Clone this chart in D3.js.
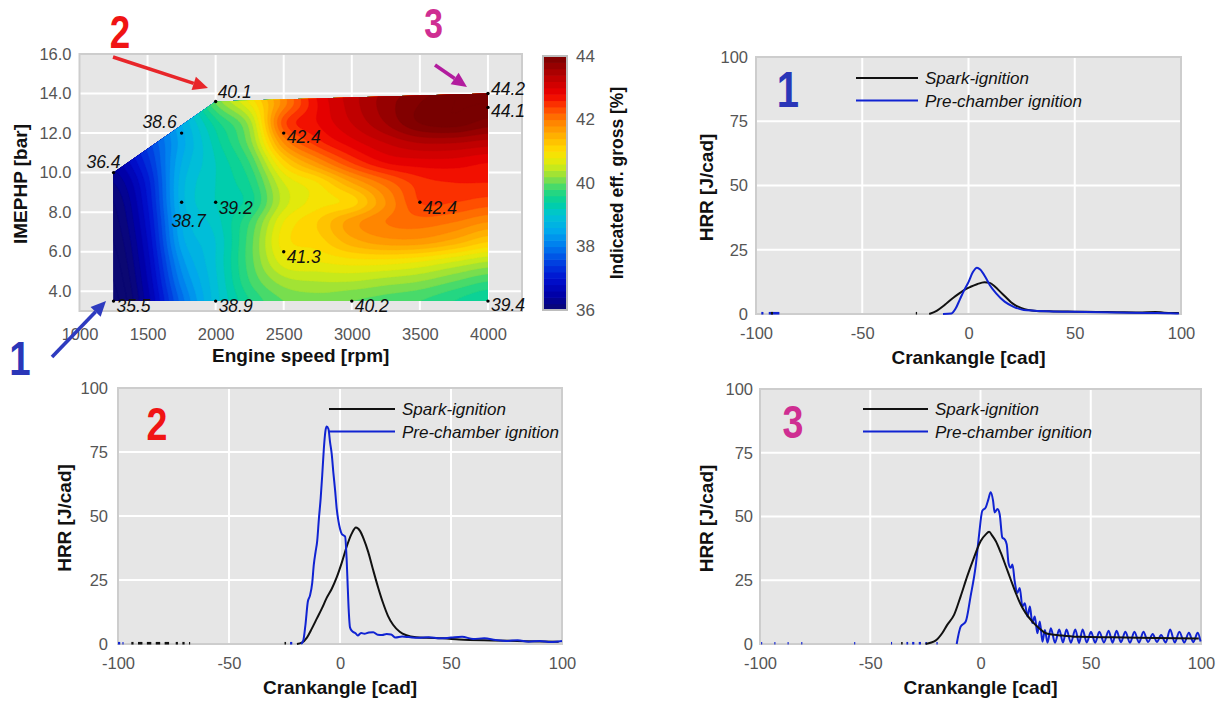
<!DOCTYPE html>
<html>
<head>
<meta charset="utf-8">
<script src="https://cdn.jsdelivr.net/npm/d3@7/dist/d3.min.js"></script>
<style>
html,body{margin:0;padding:0;background:#fff;}
svg{display:block;}
</style>
</head>
<body>
<svg id="chart" width="1228" height="701"></svg>
<script>
// ================= DATA: efficiency map =================
const rpmCols  = [1250,1500,1750,2000,2250,2500,2750,3000,3250,3500,3750,4000];
const imepRows = [3.5,4.5,5.5,6.5,7.5,8.5,9.5,10.5,11.5,12.5,13.5,14.5];
const effGrid = [
  [35.5,36.5,37.9,38.9, 39.6,40.0,40.1,40.0,39.9,39.8,39.6,39.4],
  [35.6,36.6,38.1,38.95,39.8,40.3,40.4,40.4,40.3,40.2,40.0,39.8],
  [35.7,36.7,38.3,39.0, 39.9,40.7,40.8,40.9,40.9,40.8,40.6,40.4],
  [35.8,36.8,38.5,39.0, 39.9,40.9,41.1,41.5,41.7,41.7,41.5,41.2],
  [35.9,36.9,38.6,39.1, 39.8,40.8,41.2,41.7,42.0,42.1,42.0,41.8],
  [36.0,37.0,38.7,39.2, 39.5,40.5,40.9,41.1,41.8,42.4,42.4,42.3],
  [36.2,37.1,38.7,39.2, 39.6,40.6,41.0,41.6,42.1,42.5,42.6,42.6],
  [36.5,37.3,38.6,39.2, 39.8,41.1,41.8,42.4,42.8,42.9,42.9,42.8],
  [36.8,37.5,38.5,39.3, 40.1,41.8,42.5,42.9,43.2,43.4,43.4,43.3],
  [37.1,37.7,38.6,39.5, 40.3,42.3,42.8,43.2,43.6,44.0,44.1,43.9],
  [37.4,37.9,38.8,40.0, 40.8,41.9,42.8,43.3,43.7,44.0,44.2,44.2],
  [37.7,38.1,39.1,40.4, 41.2,42.1,42.9,43.3,43.6,43.8,44.1,44.3]
];
const pointRpm  = [1250,1250,1750,2000,1750,2000,2000,2500,2500,3000,3500,4000,4000,4000];
const pointImep = [3.5,10,12,13.6,8.5,8.5,3.5,12,6,3.5,8.5,14.0,13.3,3.5];
const pointEff  = [35.5,36.4,38.6,40.1,38.7,39.2,38.9,42.4,41.3,40.2,42.4,44.2,44.1,39.4];
const rpmTicks  = [1000,1500,2000,2500,3000,3500,4000];
const imepTicks = [4,6,8,10,12,14,16];
const effTicks  = [36,38,40,42,44];

// ================= DATA: heat release rate =================
const cadTicks = [-100,-50,0,50,100];
const hrrTicks = [0,25,50,75,100];
const legendNames = ['Spark-ignition','Pre-chamber ignition'];

// operating point 1
const c1SparkCad = [-18.5,-15,-12,-10,-7,-4,-1.5,1,4,7.5,10,12.5,15,17.5,20,22.5,25,28,32,40,50,60,70,80,88,92,96,99];
const c1SparkHrr = [0,1.2,3.0,4.4,6.4,8.2,9.6,10.6,11.6,12.4,12.1,10.6,8.6,6.6,4.6,3.2,2.3,1.6,1.2,1.0,0.9,0.8,0.7,0.6,0.8,0.5,0.4,0.4];
const c1PreCad = [-12,-8,-6,-4,-2,0,2,4,5.5,8,10,13,17,21,26,31,40,55,70,85,95,99];
const c1PreHrr = [0,0.2,2.2,5.8,9.3,12.4,16.2,18.0,17.3,14.3,11.3,8.0,4.8,2.9,1.6,1.3,1.0,0.8,0.6,0.4,0.3,0.2];
const c1SparkBits = [[-93,-92],[-24.8,-24.2]];
const c1PreBits = [[-97.5,-96.5],[-94,-89]];

// operating point 2
const c2SparkCad = [-19.4,-17.2,-14.9,-12.7,-10.4,-8.2,-6,-3.7,-1.5,0.7,3,5.2,7.2,9,10.7,12.7,14.9,17.2,19.4,21.6,23.9,26.9,29.9,34.3,38.8,46.3,53.7,68.7,83.6,98.5];
const c2SparkHrr = [0,0.5,2.5,6.0,10.0,13.8,18.0,21.6,26.0,31.5,38.0,43.0,45.5,44.2,41.0,36.0,29.0,22.0,16.0,11.0,7.5,4.8,3.4,2.6,2.4,2.2,1.8,1.4,1.1,0.9];
const c2PreCad = [-17.5,-16.5,-15.5,-14.5,-13.5,-12.5,-11.8,-11,-10.3,-9.5,-8.7,-8,-7.3,-6.6,-6,-5.2,-4.5,-3.7,-3,-2.2,-1.5,-0.7,0,0.8,1.5,2.3,3,3.5,4,4.5,5.5,7,8,9.5,11,13,15,17,19,21,23,25,28,31,35,40,45,50,55,60,65,70,75,80,85,90,95,100];
const c2PreHrr = [0,1.5,8,16.5,19,24,31,36,40,49,57,66,76,83,85,84,79,74,67,60,53,48,45,43,42.5,42,33,22,12,6.5,5,4.2,3.3,4.3,4.0,4.5,4.6,3.6,3.5,3.9,3.7,2.5,2.9,2.7,2.4,2.6,2.2,2.5,2.8,2.0,2.2,1.6,1.2,1.5,0.9,1.2,0.8,1.2];
const c2SparkBits = [[-94,-93],[-91,-89],[-87,-85],[-83,-81],[-79,-77],[-74,-73],[-71,-70],[-68,-67.5],[-25,-24.3]];
const c2PreBits = [[-100,-99],[-98,-97.5],[-22.5,-21.5]];

// operating point 3
const c3SparkCad = [-24.9,-20.4,-17.4,-15.1,-12,-9,-6,-3,0.1,2.4,3.9,5.4,6.9,9.2,11.5,13.7,16,18.3,20.5,23.5,26.6,29.6,33.4,37.2,45,60,80,99];
const c3SparkHrr = [0,1.3,4.2,7.5,11.4,18.7,26.6,33.8,40.4,43.0,44.0,42.4,40.4,35.8,30.5,25.3,20.0,15.4,12.1,8.8,6.2,4.2,3.6,3.3,2.8,2.6,2.4,2.2];
const c3PreCad = [-10.8,-9,-6.7,-4.5,-2.2,-0.7,0.8,2.4,3.6,4.6,5.7,6.4,7.7,8.7,9.9,11.0,11.9,12.7,13.7,14.5,15.5,16.7,17.8,19.0,20.1,21.3,22.4,23.5,24.6,25.8,26.9,28.1,29.2,30.4,31.9,33.8,35.7,37.4,39.0,41.0,43.0,44.7,46.3,48.2,50.1,52.0,53.9,56.0,58.1,59.9,61.7,63.7,65.7,67.8,69.8,71.9,73.9,76.0,78.1,80.0,81.9,84.0,86.0,88.1,90.2,92.4,94.5,96.5,98.5,99.8];
const c3PreHrr = [0,6.8,8.8,18.7,30.5,42.4,52.2,53.6,56.8,59.5,56.2,51.6,52.9,50.9,41.7,41.0,39.0,31.8,29.9,31.2,24.6,20.0,22.0,14.7,16.0,10.8,14.7,8.2,10.8,4.2,8.8,0.9,5.5,0.5,6.2,0.5,5.7,0.6,5.7,0.5,5.7,0.4,5.7,0.6,4.8,0.5,4.8,0.6,5.2,0.5,5.2,0.7,4.8,0.5,4.8,0.6,4.8,0.8,3.9,0.8,3.5,0.6,5.7,0.6,4.8,0.6,4.4,0.7,4.4,1.0];
const c3SparkBits = [[-36,-35.3]];
const c3PreBits = [[-99.5,-99],[-93.5,-93],[-87.5,-87],[-81.3,-80.8],[-57.3,-56.8],[-40.6,-40.1],[-33.6,-32.8],[-31,-30],[-28,-27],[-25,-24.3],[-20,-19.4]];

// ================= STYLE =================
const FONT = "'Liberation Sans', Arial, Helvetica, sans-serif";
const TICK_COLOR = '#555';
const BG = '#e6e6e6';
const FRAME = '#cdcdcd';
const SPARK_COLOR = '#111111';
const PRE_COLOR = '#1023d2';
const cmapStops  = [36,36.5,37,37.5,38,38.5,39,39.4,39.8,40.2,40.6,41,41.5,42,42.4,42.8,43.3,43.7,44];
const cmapColors = ['#0b0872','#0000a8','#0010d0','#0040e0','#0078ee','#00a8ec','#00c4d4','#00d0a0','#30d878','#90e040','#d8ec10','#ffe000','#ffb000','#ff7c00','#ff4000','#ee0000','#c00000','#960000','#780000'];
const cmap = d3.scaleLinear().domain(cmapStops).range(cmapColors).clamp(true);
const plain = d => String(d);

const svg = d3.select('#chart');

// ================= efficiency map =================
const mx = d3.scaleLinear().domain([1000,4250]).range([79.5,522]);
const my = d3.scaleLinear().domain([3,16]).range([311,54]);
const mapG = svg.append('g');
mapG.append('rect').attr('x',mx.range()[0]).attr('y',my.range()[1])
  .attr('width',mx.range()[1]-mx.range()[0]).attr('height',my.range()[0]-my.range()[1]).attr('fill',BG);
mapG.selectAll('line.gx').data(rpmTicks.slice(1)).join('line').attr('class','gx')
  .attr('x1',d=>mx(d)).attr('x2',d=>mx(d)).attr('y1',my.range()[1]).attr('y2',my.range()[0])
  .attr('stroke','#fff').attr('stroke-width',2);
mapG.selectAll('line.gy').data(imepTicks.slice(0,-1)).join('line').attr('class','gy')
  .attr('y1',d=>my(d)).attr('y2',d=>my(d)).attr('x1',mx.range()[0]).attr('x2',mx.range()[1])
  .attr('stroke','#fff').attr('stroke-width',2);
mapG.append('rect').attr('x',mx.range()[0]).attr('y',my.range()[1])
  .attr('width',mx.range()[1]-mx.range()[0]).attr('height',my.range()[0]-my.range()[1])
  .attr('fill','none').attr('stroke',FRAME).attr('stroke-width',2);

// smooth sampling of the read grid (Catmull-Rom) for drawing contour bands
function cr(p0,p1,p2,p3,t){
  return 0.5*((2*p1)+(-p0+p2)*t+(2*p0-5*p1+4*p2-p3)*t*t+(-p0+3*p1-3*p2+p3)*t*t*t);
}
function sampleEff(r,m){
  const nC = rpmCols.length, nR = imepRows.length;
  const fx = (r-rpmCols[0])/(rpmCols[1]-rpmCols[0]);
  const fy = (m-imepRows[0])/(imepRows[1]-imepRows[0]);
  const ix = Math.floor(fx), iy = Math.floor(fy), tx = fx-ix, ty = fy-iy;
  const g = (i,j)=>effGrid[Math.max(0,Math.min(nR-1,j))][Math.max(0,Math.min(nC-1,i))];
  const rows = [];
  for(let k=-1;k<=2;k++) rows.push(cr(g(ix-1,iy+k),g(ix,iy+k),g(ix+1,iy+k),g(ix+2,iy+k),tx));
  return cr(rows[0],rows[1],rows[2],rows[3],ty);
}
const nx = 281, ny = 221, r0 = 1240, dr = 10, m0 = 3.4, dm = 0.05;
const vals = new Array(nx*ny);
for(let j=0;j<ny;j++) for(let i=0;i<nx;i++) vals[j*nx+i] = sampleEff(r0+i*dr, m0+j*dm);
const levels = d3.range(35.0,44.6,0.2);
const bands = d3.contours().size([nx,ny]).thresholds(levels)(vals);
const proj = d3.geoTransform({point(x,y){ this.stream.point(mx(r0+(x-0.5)*dr), my(m0+(y-0.5)*dm)); }});
const gpath = d3.geoPath(proj);
const hull = d3.polygonHull(pointRpm.map((r,i)=>[mx(r),my(pointImep[i])]));
svg.append('defs').append('clipPath').attr('id','mapClip')
  .append('path').attr('d','M'+hull.map(p=>p.join(',')).join('L')+'Z');
mapG.append('g').attr('clip-path','url(#mapClip)')
  .selectAll('path').data(bands).join('path')
  .attr('d',gpath).attr('fill',d=>cmap(d.value+0.1)).attr('stroke',d=>cmap(d.value+0.1)).attr('stroke-width',0.4);

// measurement points & labels
const labelDx = [3,-27,-39,2,-10,3,3,3,3,3,3,3,3,3];
const labelDy = [5,-11,-11,-9,19,6,5,4,5,5,6,-5,4,4];
mapG.selectAll('circle.pt').data(pointRpm).join('circle').attr('class','pt')
  .attr('cx',(d,i)=>mx(d)).attr('cy',(d,i)=>my(pointImep[i])).attr('r',1.7).attr('fill','#000');
mapG.selectAll('text.pl').data(pointEff).join('text').attr('class','pl')
  .attr('x',(d,i)=>mx(pointRpm[i])+labelDx[i]).attr('y',(d,i)=>my(pointImep[i])+labelDy[i]+6)
  .attr('font-family',FONT).attr('font-size',17.5).attr('font-style','italic').attr('fill','#111')
  .text(d=>d3.format('.1f')(d));

// map axes
const axB = mapG.append('g').attr('transform',`translate(0,${my.range()[0]})`)
  .call(d3.axisBottom(mx).tickValues(rpmTicks).tickFormat(plain).tickSize(0).tickPadding(17));
const axL = mapG.append('g').attr('transform',`translate(${mx.range()[0]},0)`)
  .call(d3.axisLeft(my).tickValues(imepTicks).tickFormat(d3.format('.1f')).tickSize(0).tickPadding(8));
[axB,axL].forEach(a=>{a.select('.domain').remove();
  a.selectAll('text').attr('font-family',FONT).attr('font-size',16.5).attr('fill',TICK_COLOR);});
mapG.append('text').attr('x',(mx.range()[0]+mx.range()[1])/2).attr('y',362).attr('text-anchor','middle')
  .attr('font-family',FONT).attr('font-weight','bold').attr('font-size',19).attr('fill','#111').text('Engine speed [rpm]');
mapG.append('text').attr('transform','translate(27,184) rotate(-90)').attr('text-anchor','middle')
  .attr('font-family',FONT).attr('font-weight','bold').attr('font-size',19).attr('fill','#111').text('IMEPHP [bar]');

// colour bar
const cb = d3.scaleLinear().domain([36,44]).range([310,56]);
const cbG = svg.append('g');
const cbSteps = d3.range(36,44,0.2);
cbG.selectAll('rect.cs').data(cbSteps).join('rect').attr('class','cs')
  .attr('x',543).attr('width',24).attr('y',d=>cb(d+0.2)).attr('height',d=>cb(d)-cb(d+0.2)+0.6)
  .attr('fill',d=>cmap(d+0.1));
cbG.append('rect').attr('x',543).attr('y',cb(44)).attr('width',24).attr('height',cb(36)-cb(44))
  .attr('fill','none').attr('stroke','#bdbdbd').attr('stroke-width',2);
const cbAx = cbG.append('g').attr('transform','translate(567,0)')
  .call(d3.axisRight(cb).tickValues(effTicks).tickFormat(plain).tickSize(0).tickPadding(9));
cbAx.select('.domain').remove();
cbAx.selectAll('text').attr('font-family',FONT).attr('font-size',17).attr('fill',TICK_COLOR);
cbG.append('text').attr('transform','translate(623,183) rotate(-90)').attr('text-anchor','middle')
  .attr('font-family',FONT).attr('font-weight','bold').attr('font-size',17.5).attr('fill','#111')
  .text('Indicated eff. gross [%]');

// ================= helpers =================
function bigDigit(txt,cx,baseline,size,color){
  svg.append('text').attr('transform',`translate(${cx},${baseline}) scale(0.8,1)`)
    .attr('text-anchor','middle').attr('font-family',FONT).attr('font-weight','bold')
    .attr('font-size',size).attr('fill',color).text(txt);
}
function arrow(x1,y1,x2,y2,color){
  const a = Math.atan2(y2-y1,x2-x1), L = 15, W = 7;
  const bx = x2-L*Math.cos(a), by = y2-L*Math.sin(a);
  svg.append('line').attr('x1',x1).attr('y1',y1).attr('x2',bx).attr('y2',by)
    .attr('stroke',color).attr('stroke-width',3.6);
  svg.append('path').attr('d',`M${x2},${y2}L${bx+W*Math.sin(a)},${by-W*Math.cos(a)}L${bx-W*Math.sin(a)},${by+W*Math.cos(a)}Z`)
    .attr('fill',color);
}

function hrrPanel(o){
  const x = d3.scaleLinear().domain([-100,100]).range([o.l,o.r]);
  const y = d3.scaleLinear().domain([0,100]).range([o.b,o.t]);
  const g = svg.append('g');
  g.append('rect').attr('x',o.l).attr('y',o.t).attr('width',o.r-o.l).attr('height',o.b-o.t).attr('fill',BG);
  g.selectAll('line.gx').data(cadTicks.slice(1,-1)).join('line').attr('class','gx')
    .attr('x1',d=>x(d)).attr('x2',d=>x(d)).attr('y1',o.t).attr('y2',o.b).attr('stroke','#fff').attr('stroke-width',2);
  g.selectAll('line.gy').data(hrrTicks.slice(1,-1)).join('line').attr('class','gy')
    .attr('y1',d=>y(d)).attr('y2',d=>y(d)).attr('x1',o.l).attr('x2',o.r).attr('stroke','#fff').attr('stroke-width',2);
  g.append('rect').attr('x',o.l).attr('y',o.t).attr('width',o.r-o.l).attr('height',o.b-o.t)
    .attr('fill','none').attr('stroke',FRAME).attr('stroke-width',2);
  const ax = g.append('g').attr('transform',`translate(0,${o.b})`)
    .call(d3.axisBottom(x).tickValues(cadTicks).tickFormat(plain).tickSize(0).tickPadding(13));
  const ay = g.append('g').attr('transform',`translate(${o.l},0)`)
    .call(d3.axisLeft(y).tickValues(hrrTicks).tickFormat(plain).tickSize(0).tickPadding(o.l-o.tickRight));
  [ax,ay].forEach(a=>{a.select('.domain').remove();
    a.selectAll('text').attr('font-family',FONT).attr('font-size',16.5).attr('fill',TICK_COLOR);});
  g.append('text').attr('x',(o.l+o.r)/2).attr('y',o.xTitleY).attr('text-anchor','middle')
    .attr('font-family',FONT).attr('font-weight','bold').attr('font-size',19).attr('fill','#111').text('Crankangle [cad]');
  g.append('text').attr('transform',`translate(${o.yTitleX},${(o.t+o.b)/2+2}) rotate(-90)`).attr('text-anchor','middle')
    .attr('font-family',FONT).attr('font-weight','bold').attr('font-size',19).attr('fill','#111').text('HRR [J/cad]');

  const line = d3.line().x(d=>x(d[0])).y(d=>y(d[1])).curve(d3.curveMonotoneX);
  const spark = o.sparkCad.map((c,i)=>[c,o.sparkHrr[i]]);
  const pre = o.preCad.map((c,i)=>[c,o.preHrr[i]]);
  const drawBits = (bits,color)=>g.selectAll(null).data(bits).join('line')
    .attr('x1',d=>x(d[0])).attr('x2',d=>x(d[1])).attr('y1',y(0.3)).attr('y2',y(0.3))
    .attr('stroke',color).attr('stroke-width',2.6);
  drawBits(o.preBits,PRE_COLOR);
  drawBits(o.sparkBits,SPARK_COLOR);
  const series = [[spark,SPARK_COLOR],[pre,PRE_COLOR]];
  if(o.preFirst) series.reverse();
  series.forEach(([d,c])=>g.append('path').datum(d).attr('d',line).attr('fill','none')
    .attr('stroke',c).attr('stroke-width',2).attr('stroke-linejoin','round'));

  // legend
  [SPARK_COLOR,PRE_COLOR].forEach((c,i)=>{
    const ly = o.legY + i*22.5;
    g.append('line').attr('x1',o.legX).attr('x2',o.legX+o.legLen).attr('y1',ly).attr('y2',ly)
      .attr('stroke',c).attr('stroke-width',2.2);
    g.append('text').attr('x',o.legX+o.legLen+7).attr('y',ly+6).attr('font-family',FONT)
      .attr('font-style','italic').attr('font-size',17).attr('fill','#111').text(legendNames[i]);
  });
  bigDigit(o.num,o.numX,o.numY,o.numSize,o.numColor);
}

hrrPanel({l:756,r:1181,t:57,b:314,tickRight:748,xTitleY:364,yTitleX:713,
  sparkCad:c1SparkCad,sparkHrr:c1SparkHrr,preCad:c1PreCad,preHrr:c1PreHrr,
  sparkBits:c1SparkBits,preBits:c1PreBits,
  legX:856,legLen:62,legY:78,num:'1',numX:788,numY:107,numSize:50,numColor:'#2a36b8'});
hrrPanel({l:118,r:562,t:388,b:644,tickRight:108,xTitleY:694,yTitleX:71,
  sparkCad:c2SparkCad,sparkHrr:c2SparkHrr,preCad:c2PreCad,preHrr:c2PreHrr,
  sparkBits:c2SparkBits,preBits:c2PreBits,
  legX:329,legLen:66,legY:409,num:'2',numX:157,numY:440,numSize:47,numColor:'#f01414'});
hrrPanel({l:760,r:1201,t:389,b:644,tickRight:753,xTitleY:694,yTitleX:713,preFirst:true,
  sparkCad:c3SparkCad,sparkHrr:c3SparkHrr,preCad:c3PreCad,preHrr:c3PreHrr,
  sparkBits:c3SparkBits,preBits:c3PreBits,
  legX:863,legLen:65,legY:409,num:'3',numX:793,numY:438,numSize:47,numColor:'#cf2e92'});

// ================= annotations on the map =================
bigDigit('2',120,48,46,'#f01414');
arrow(113,57,208,88,'#e8262a');
bigDigit('3',433.5,38,42,'#cf2e92');
arrow(435,65,467,87,'#b21c9e');
bigDigit('1',20,375,48,'#2a36b8');
arrow(52,357,106,301,'#2e3bbf');
</script>
</body>
</html>
